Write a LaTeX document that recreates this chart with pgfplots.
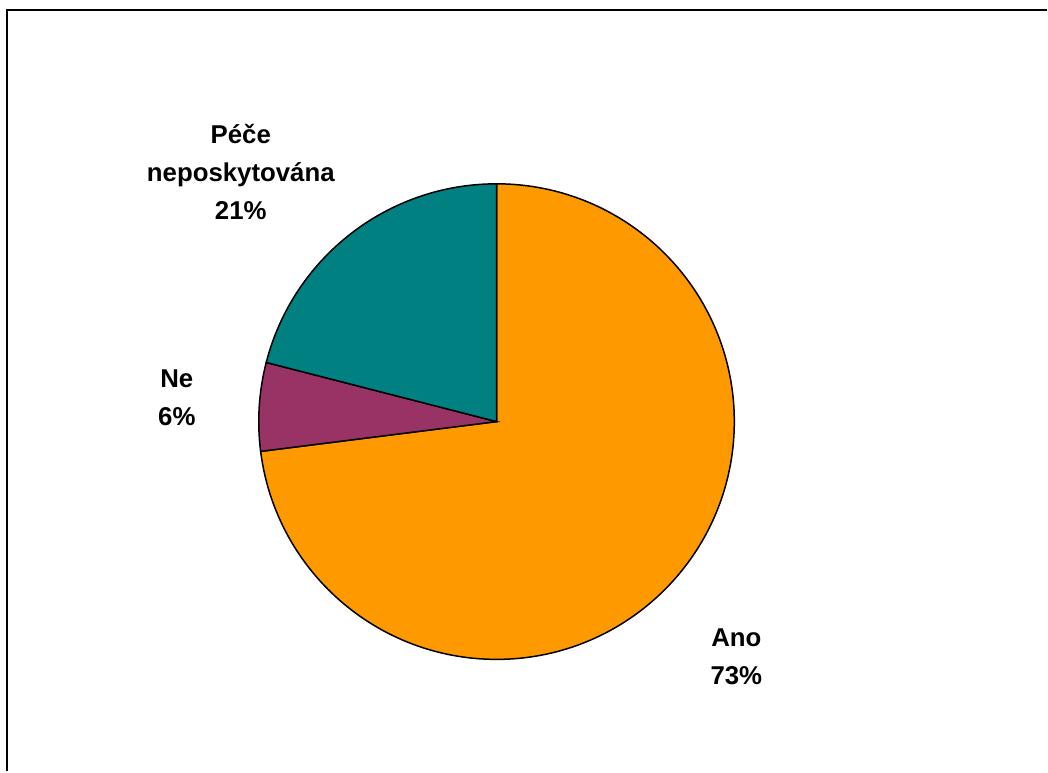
\documentclass[border=0pt]{standalone}
\usepackage{fontspec}
\setmainfont{Liberation Sans}
\usepackage{pgfplots}
\pgfplotsset{compat=1.18}
\definecolor{cAno}{HTML}{FF9900}
\definecolor{cNe}{HTML}{993366}
\definecolor{cPece}{HTML}{008080}
% shares (percent)
\def\pAno{73}
\def\pNe{6}
\def\pPece{21}
\pgfmathsetmacro{\aA}{90}
\pgfmathsetmacro{\aB}{90-3.6*\pAno}
\pgfmathsetmacro{\aC}{\aB-3.6*\pNe}
\pgfmathsetmacro{\aD}{\aC-3.6*\pPece}
\begin{document}
\begin{tikzpicture}
\begin{axis}[
  scale only axis, width=524pt, height=386pt,
  xmin=0, xmax=1048, ymin=0, ymax=772,
  hide axis, clip=false,
]
\path (axis cs:0,0) rectangle (axis cs:1048,772);
\draw[line width=1pt] (axis cs:7,0) -- (axis cs:7,762) -- (axis cs:1048,762);
\draw[fill=cAno, line width=0.75pt] (axis cs:497,350) -- ++(\aA:119pt) arc[start angle=\aA, end angle=\aB, radius=119pt] -- cycle;
\draw[fill=cNe, line width=0.75pt] (axis cs:497,350) -- ++(\aB:119pt) arc[start angle=\aB, end angle=\aC, radius=119pt] -- cycle;
\draw[fill=cPece, line width=0.75pt] (axis cs:497,350) -- ++(\aC:119pt) arc[start angle=\aC, end angle=\aD, radius=119pt] -- cycle;
\node[align=center, font=\fontsize{12.9}{19}\selectfont\bfseries] at (axis cs:241,600) {Péče\\neposkytována\\21\%};
\node[align=center, font=\fontsize{12.9}{19}\selectfont\bfseries] at (axis cs:177,374) {Ne\\6\%};
\node[align=center, font=\fontsize{12.9}{19}\selectfont\bfseries] at (axis cs:737,115) {Ano\\73\%};
\end{axis}
\end{tikzpicture}
\end{document}
